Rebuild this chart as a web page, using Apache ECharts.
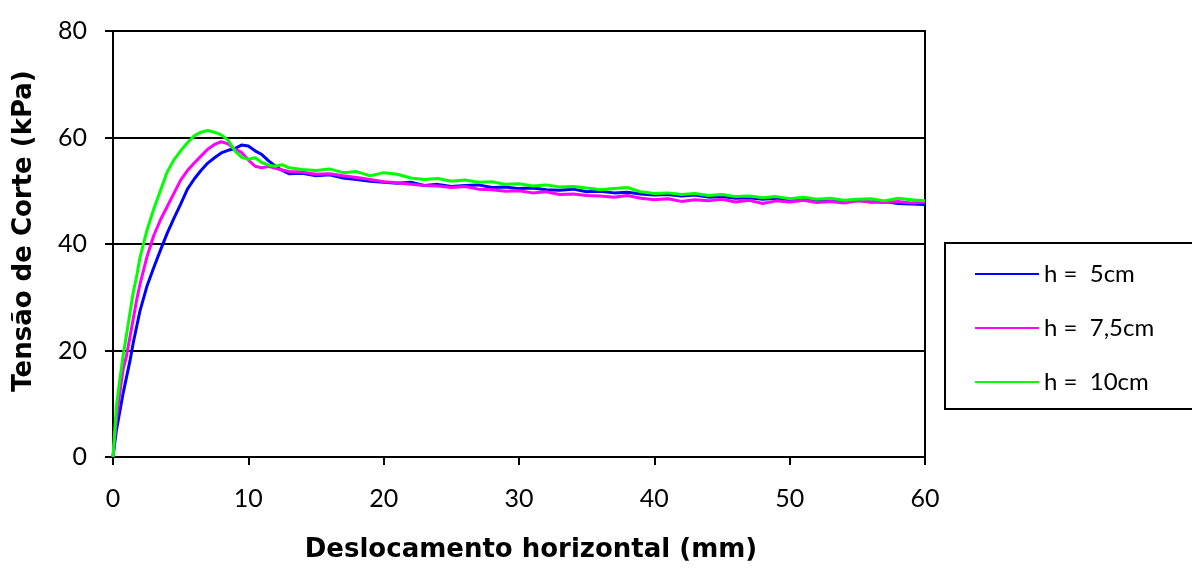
<!DOCTYPE html>
<html><head><meta charset="utf-8">
<script src="https://cdn.jsdelivr.net/npm/echarts@6/dist/echarts.min.js"></script>
<style>html,body{margin:0;padding:0;background:#fff}#c{width:1192px;height:568px}</style>
</head><body><div id="c"></div>
<script>
const seriesNames = ['h =  5cm', 'h =  7,5cm', 'h =  10cm'];
const xValues = [0,0.25,0.5,0.75,1,1.25,1.5,1.75,2,2.5,3,3.5,4,4.5,5,5.5,6,6.5,7,7.5,8,8.5,9,9.5,10,10.5,11,11.5,12,12.5,13,14,15,16,17,18,19,20,21,22,23,24,25,26,27,28,29,30,31,32,33,34,35,36,37,38,39,40,41,42,43,44,45,46,47,48,49,50,51,52,53,54,55,56,57,58,59,60];
const yBlue = [0,5,8.5,12,15,18,21.5,24.5,27.5,32,35.5,38.8,42,44.8,47.5,50.3,52.2,53.8,55.2,56.2,57.1,57.6,57.9,58.6,58.4,57.5,56.8,55.6,54.6,53.8,53.2,53.3,52.8,53.0,52.4,52.1,51.8,51.6,51.4,51.6,51.0,51.2,50.8,51.0,51.1,50.6,50.7,50.4,50.5,50.2,50.1,50.3,49.8,49.9,49.6,49.7,49.4,49.2,49.3,49.0,49.2,48.8,48.9,48.6,48.7,48.4,48.6,48.3,48.4,48.1,48.3,48.0,48.2,47.9,48.0,47.6,47.5,47.4];
const yPink = [0,7,12,16.5,19,22.5,26,29.5,32.5,37.5,41.5,44.5,47,49.5,52,53.8,55.2,56.5,57.8,58.7,59.2,58.8,57.8,57.2,55.8,54.6,54.3,54.6,54.2,53.9,53.6,53.5,53.1,53.2,52.8,52.5,52.1,51.7,51.5,51.2,51.0,50.9,50.6,50.8,50.3,50.2,49.9,50.0,49.6,49.8,49.3,49.4,49.1,49.0,48.8,49.1,48.6,48.3,48.5,48.0,48.3,48.1,48.4,47.9,48.2,47.6,48.1,47.9,48.2,47.8,48.0,47.7,48.1,47.9,47.8,48.0,47.7,47.9];
const yGreen = [0,9.5,14.5,19,23,27,31,34,37.5,42.5,46.5,50,53.5,55.8,57.5,59,60.3,61,61.3,61,60.5,59.5,57.5,56.3,55.9,56.2,55.3,54.8,54.6,54.9,54.3,54.0,53.8,54.1,53.4,53.6,52.8,53.4,53.1,52.4,52.1,52.3,51.8,52.0,51.6,51.7,51.2,51.3,50.9,51.1,50.7,50.8,50.5,50.2,50.4,50.6,49.8,49.5,49.6,49.3,49.5,49.1,49.3,48.9,49.0,48.7,48.9,48.5,48.8,48.4,48.6,48.2,48.4,48.5,48.1,48.6,48.3,48.1];
const colors = ['#0000ff', '#ff00ff', '#00ff00'];
const yLists = [yBlue, yPink, yGreen];

const chart = echarts.init(document.getElementById('c'), null, {renderer: 'canvas'});
const tickFont = {fontFamily: 'Lato', fontSize: 25, color: '#000'};
chart.setOption({
  animation: false,
  backgroundColor: '#fff',
  grid: {left: 113, right: 267, top: 31, bottom: 111, show: true, borderColor: '#000', borderWidth: 2, backgroundColor: 'transparent'},
  xAxis: {
    type: 'value', min: 0, max: 60, interval: 10,
    name: 'Deslocamento horizontal (mm)', nameLocation: 'middle', nameGap: 80,
    nameTextStyle: {fontFamily: 'DejaVu Sans', fontWeight: 'bold', fontSize: 26, color: '#000', padding: [0, 0, 0, 24]},
    axisLine: {show: true, lineStyle: {color: '#000', width: 2}},
    axisTick: {show: true, inside: false, length: 8, lineStyle: {color: '#000', width: 2}},
    axisLabel: Object.assign({margin: 29}, tickFont),
    splitLine: {show: false}
  },
  yAxis: {
    type: 'value', min: 0, max: 80, interval: 20,
    name: 'Tensão de Corte (kPa)', nameLocation: 'middle', nameGap: 76, nameRotate: 90,
    nameTextStyle: {fontFamily: 'DejaVu Sans', fontWeight: 'bold', fontSize: 26, color: '#000', padding: [0, 0, 0, 26]},
    axisLine: {show: true, lineStyle: {color: '#000', width: 2}},
    axisTick: {show: true, inside: false, length: 8, lineStyle: {color: '#000', width: 2}},
    axisLabel: Object.assign({margin: 26}, tickFont),
    splitLine: {show: true, lineStyle: {color: '#000', width: 2}}
  },
  legend: {
    orient: 'vertical', left: 945, top: 243,
    data: seriesNames,
    icon: 'rect',
    itemWidth: 64, itemHeight: 2, itemGap: 30,
    padding: [19, 60, 15, 30],
    borderColor: '#000', borderWidth: 2,
    textStyle: {fontFamily: 'Lato', fontSize: 24, color: '#000'}
  },
  series: yLists.map((ys, i) => ({
    name: seriesNames[i], type: 'line', symbol: 'none',
    data: xValues.map((x, j) => [x, ys[j]]),
    lineStyle: {color: colors[i], width: 3},
    itemStyle: {color: colors[i]},
    z: 2 + i
  }))
});
</script></body></html>
